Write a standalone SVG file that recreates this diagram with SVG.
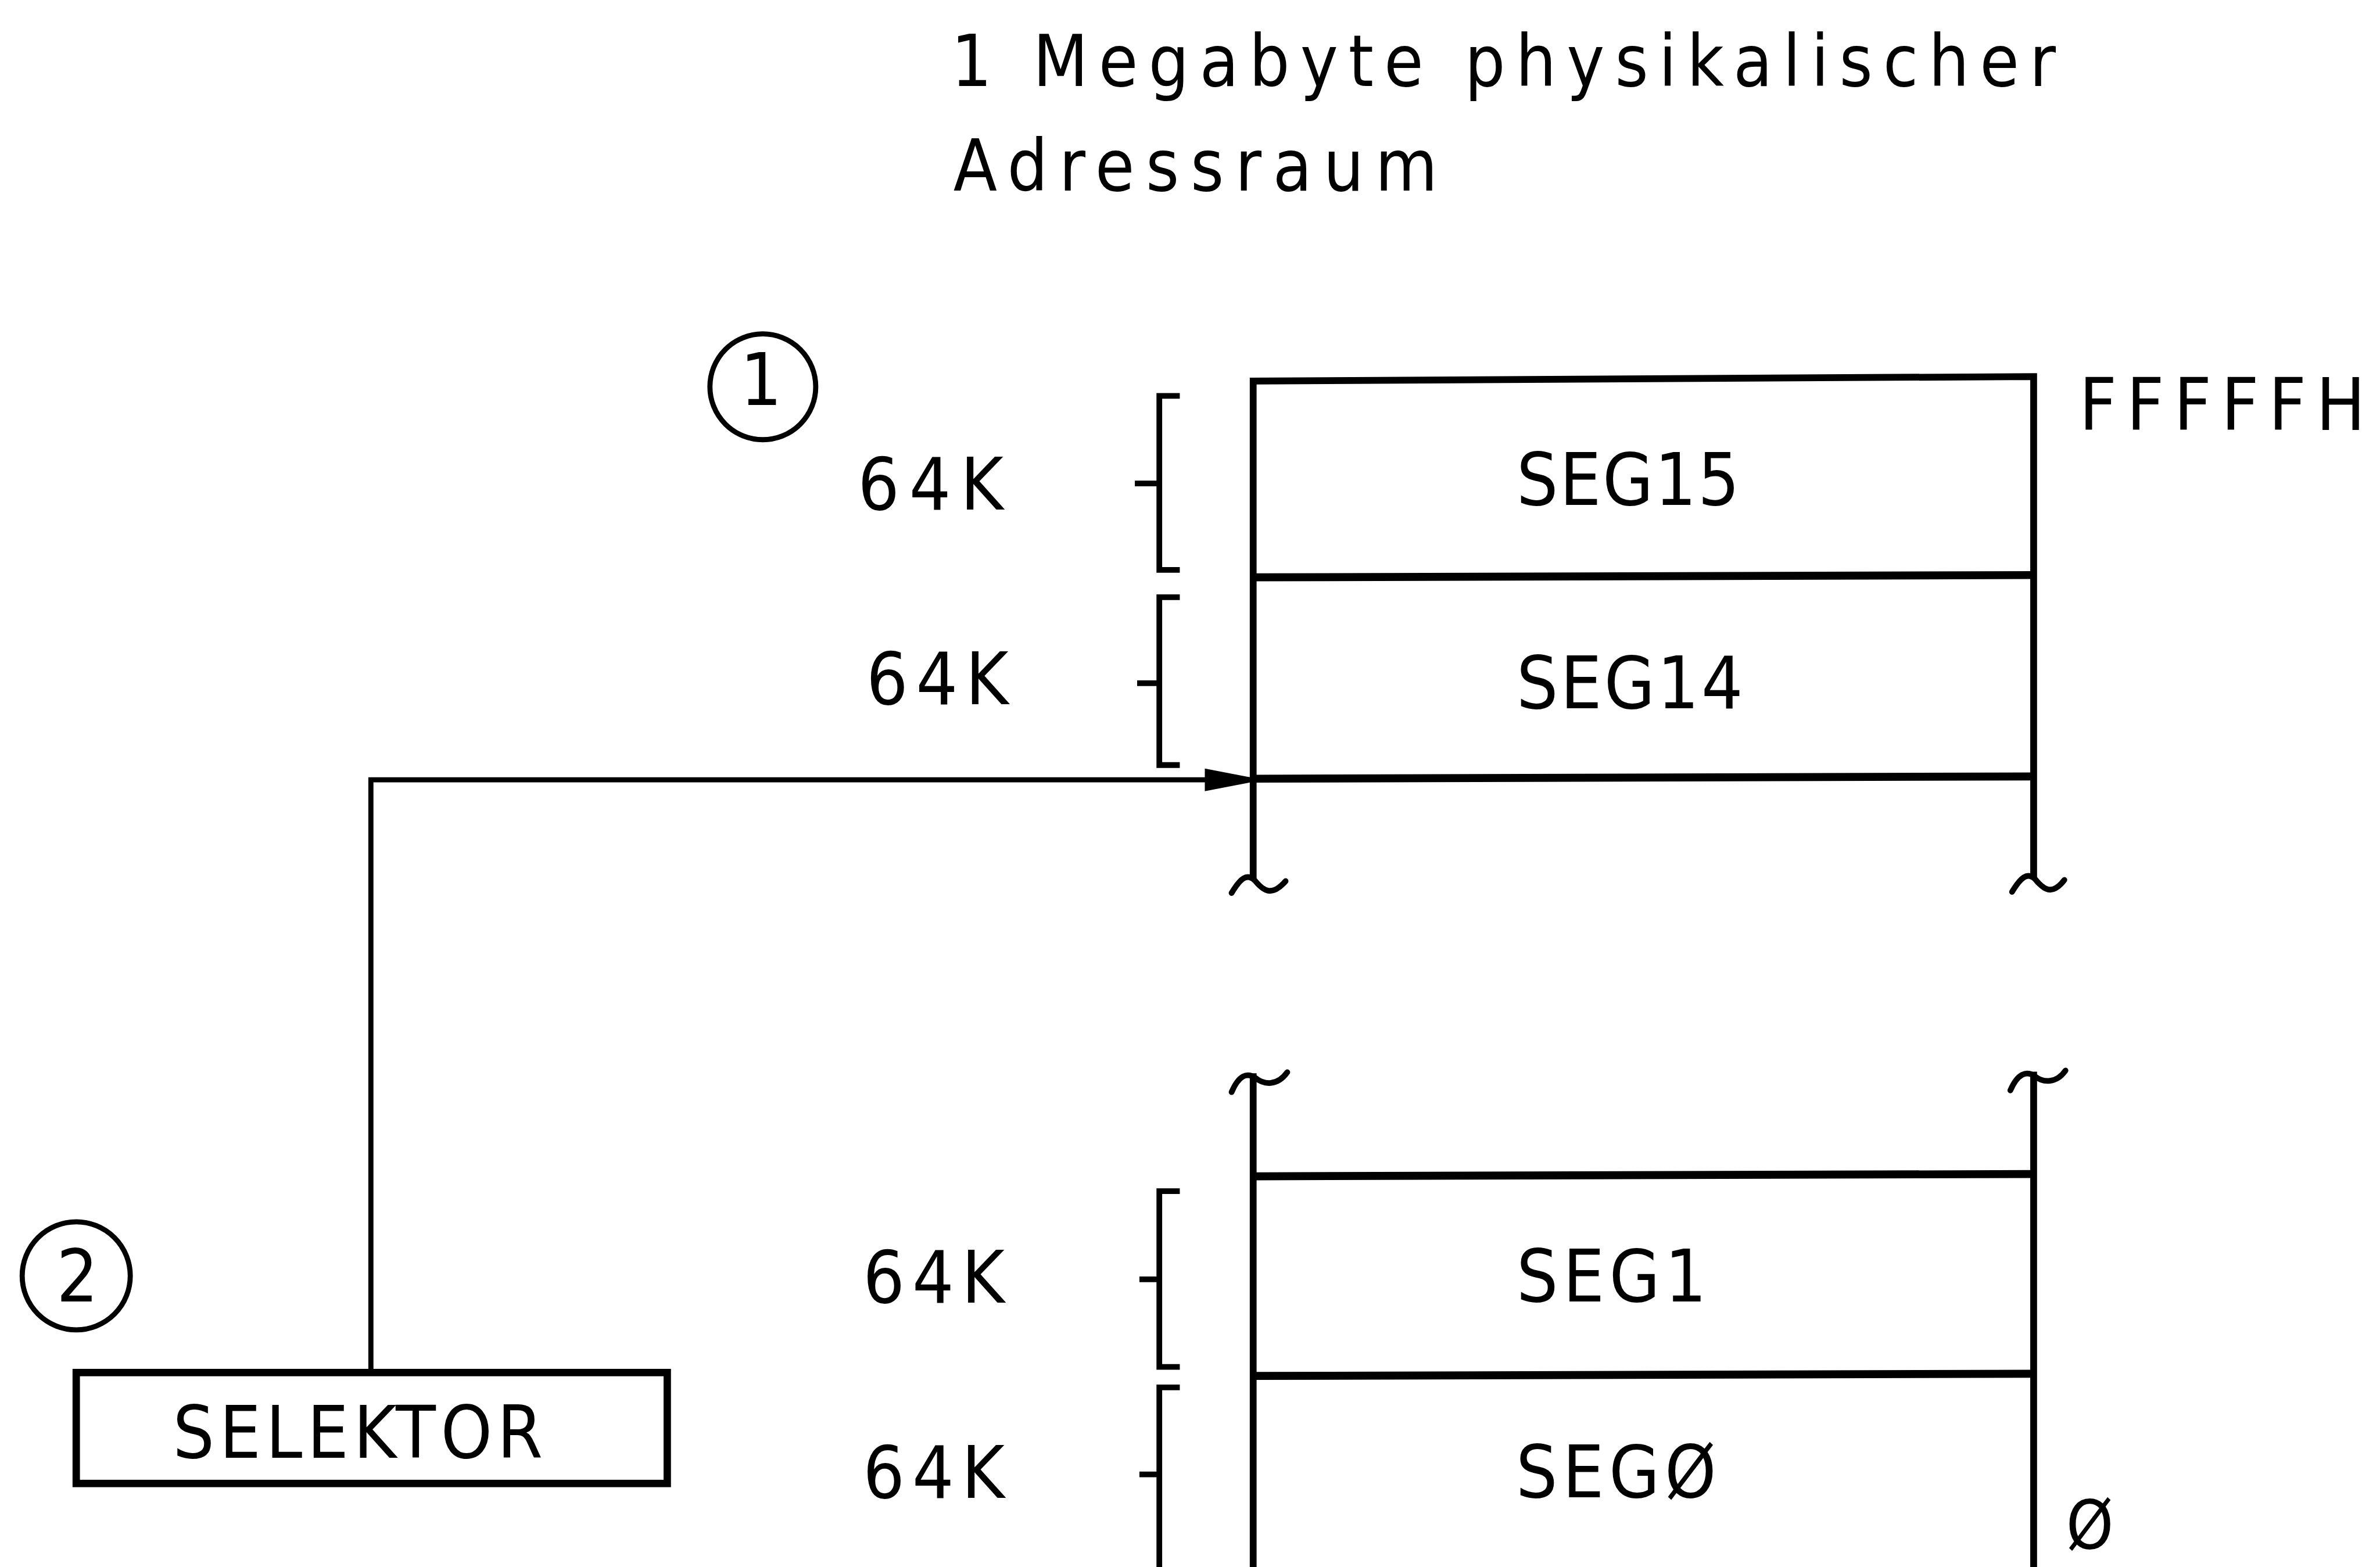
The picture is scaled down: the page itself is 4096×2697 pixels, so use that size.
<svg xmlns="http://www.w3.org/2000/svg" width="4096" height="2697" viewBox="0 0 4096 2697">
<defs>
<style>
text{font-family:"DejaVu Sans","Liberation Sans",sans-serif;font-stretch:condensed;fill:#000}
.t{font-size:125px}
.l{font-size:128px}
.ln{fill:none;stroke:#000;stroke-width:12;stroke-linecap:square}
.sep{fill:none;stroke:#000;stroke-width:14}
.br{fill:none;stroke:#000;stroke-width:10}
.cn{fill:none;stroke:#000;stroke-width:9}
.brk{fill:none;stroke:#000;stroke-width:10;stroke-linecap:round}
</style>
<marker id="arr" markerUnits="userSpaceOnUse" markerWidth="90" markerHeight="44" refX="86" refY="22" orient="auto">
<path d="M4,2 L86,18 L86,26 L4,42 Z" fill="#000"/>
</marker>
</defs>
<rect width="4096" height="2697" fill="#fff"/>
<g transform="scale(0.979)">
<g id="title">
<text class="t" x="1672" y="151" textLength="1942" lengthAdjust="spacing">1 Megabyte physikalischer</text>
<text class="t" x="1676" y="335" textLength="851" lengthAdjust="spacing">Adressraum</text>
</g>
<g id="marker1">
<circle cx="1341" cy="680" r="93" fill="none" stroke="#000" stroke-width="9"/>
<text class="l" x="1338" y="712" text-anchor="middle">1</text>
</g>
<g id="marker2">
<circle cx="134" cy="2243" r="95" fill="none" stroke="#000" stroke-width="9"/>
<text class="l" x="136" y="2288" text-anchor="middle">2</text>
</g>
<g id="memory">
<path class="ln" d="M2203,1542 V670 L3575,662 V1540"/>
<path class="sep" d="M2203,1015 L3575,1011"/>
<path class="sep" d="M2203,1369 L3575,1365"/>
<path class="brk" d="M2165,1570 C2180,1545 2192,1534 2206,1548 C2220,1565 2235,1578 2260,1549"/>
<path class="brk" d="M3537,1568 C3552,1543 3564,1532 3578,1546 C3592,1563 3607,1576 3629,1547"/>
<path class="brk" d="M2165,1920 C2178,1890 2192,1885 2207,1895 C2222,1907 2245,1910 2263,1885"/>
<path class="brk" d="M3534,1917 C3547,1887 3562,1882 3577,1892 C3592,1904 3615,1905 3631,1882"/>
<path class="ln" d="M2203,1893 V2770"/>
<path class="ln" d="M3575,1890 V2770"/>
<path class="sep" d="M2203,2068 L3575,2064"/>
<path class="sep" d="M2203,2419 L3575,2415"/>
</g>
<g id="seg15"><text class="l" x="2666" y="888" textLength="392" lengthAdjust="spacing">SEG15</text></g>
<g id="seg14"><text class="l" x="2666" y="1245" textLength="398" lengthAdjust="spacing">SEG14</text></g>
<g id="seg1"><text class="l" x="2666" y="2288" textLength="334" lengthAdjust="spacing">SEG1</text></g>
<g id="seg0"><text class="l" x="2665" y="2632" textLength="352" lengthAdjust="spacing">SEGØ</text></g>
<g id="addr-top"><text class="l" x="3655" y="756" textLength="503" lengthAdjust="spacing">FFFFFH</text></g>
<g id="addr-bottom"><text x="3632" y="2722" style="font-size:118px">Ø</text></g>
<g id="sizes">
<path class="br" d="M2074,696 H2038 V1002 H2074 M2038,850 H1995"/>
<text class="l" x="1508" y="896" textLength="256" lengthAdjust="spacing">64K</text>
<path class="br" d="M2074,1050 H2038 V1345 H2074 M2038,1201 H1999"/>
<text class="l" x="1523" y="1238" textLength="250" lengthAdjust="spacing">64K</text>
<path class="br" d="M2074,2094 H2038 V2403 H2074 M2038,2249 H2003"/>
<text class="l" x="1517" y="2290" textLength="249" lengthAdjust="spacing">64K</text>
<path class="br" d="M2074,2439 H2038 V2770 M2038,2592 H2003"/>
<text class="l" x="1517" y="2633" textLength="249" lengthAdjust="spacing">64K</text>
</g>
<g id="selektor">
<rect x="134" y="2413" width="1039" height="195" fill="none" stroke="#000" stroke-width="13"/>
<text class="l" x="304" y="2563" textLength="650" lengthAdjust="spacing">SELEKTOR</text>
</g>
<g id="connectors">
<path class="cn" d="M652,2407 V1371 H2200" marker-end="url(#arr)"/>
</g>
</g>
</svg>
